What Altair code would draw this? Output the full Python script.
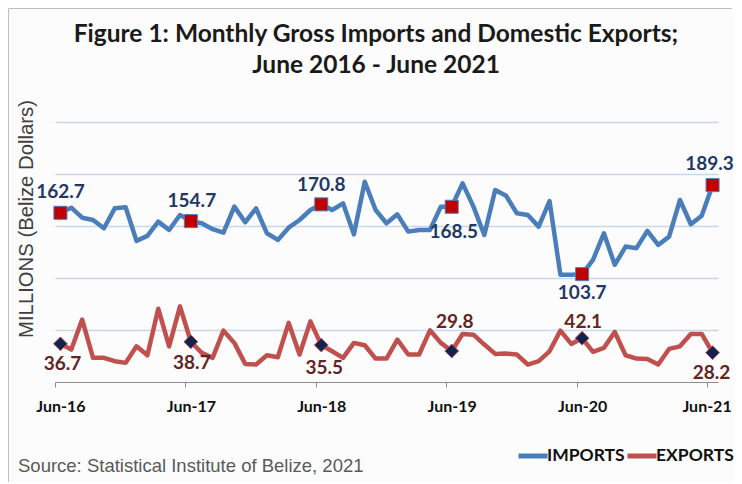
import altair as alt
import pandas as pd

# ---------------- data ----------------
tick_labels = ["Jun-16", "Jun-17", "Jun-18", "Jun-19", "Jun-20", "Jun-21"]
series_names = ["IMPORTS", "EXPORTS"]

imports = [162.7, 167.6, 158.0, 155.8, 147.8, 167.0, 168.0, 135.7, 140.5, 154.2,
           146.2, 160.6, 154.7, 152.6, 146.9, 143.6, 168.6, 153.6, 167.0, 143.0,
           136.6, 148.4, 155.8, 165.4, 170.8, 165.4, 171.8, 142.0, 192.5, 165.4,
           152.6, 161.2, 144.6, 146.2, 146.2, 168.6, 168.5, 191.0, 168.6, 141.4,
           184.6, 179.1, 162.2, 160.6, 149.4, 174.0, 103.1, 103.1, 103.7, 117.4,
           143.0, 112.7, 130.2, 128.7, 145.3, 131.8, 139.8, 175.0, 151.7, 159.9,
           189.3]

exports = [36.7, 31.2, 60.0, 23.2, 23.2, 20.0, 18.4, 34.3, 25.7, 70.5,
           34.3, 72.7, 38.7, 28.0, 23.2, 49.4, 37.6, 17.4, 16.8, 25.7,
           23.8, 56.8, 26.4, 58.3, 35.5, 29.5, 23.2, 37.6, 35.3, 22.5,
           22.5, 40.7, 26.4, 26.4, 49.7, 37.6, 29.8, 46.2, 45.5, 36.0,
           27.0, 27.3, 26.4, 16.8, 20.0, 29.5, 49.4, 36.6, 42.1, 29.0,
           32.8, 48.1, 25.7, 22.5, 22.2, 16.8, 31.8, 34.3, 46.2, 46.2,
           28.2]

months = list(range(len(imports)))
marker_idx = [0, 12, 24, 36, 48, 60]

title_line1 = "Figure 1: Monthly Gross Imports and Domestic Exports;"
title_line2 = "June 2016 - June 2021"
y_title = "MILLIONS (Belize Dollars)"
source_text = "Source: Statistical Institute of Belize, 2021"

# ---------------- styles ----------------
BLUE = "#4a7ebb"
RED = "#c0504d"
IMP_LABEL = "#1f3864"
EXP_LABEL = "#632523"
FONT = "Lato"
W, H = 663, 260
half = W / 61 / 2

imp_off = [(0, -21), (1, -20), (0, -19), (2, 25), (0, 19), (-3, -21)]
exp_off = [(2, 20), (1, 21), (3, 23), (3, -29), (1, -16), (-1, 20)]

df = pd.DataFrame({
    "i": months * 2,
    "value": imports + exports,
    "series": [series_names[0]] * len(imports) + [series_names[1]] * len(exports),
})

xscale = alt.Scale(domain=[-0.5, 60.5], nice=False, zero=False)
yscale = alt.Scale(domain=[0, 250], nice=False)

label_expr = "[" + ",".join(f"'{t}'" for t in tick_labels) + "][round(datum.value/12)]"

x_enc = alt.X(
    "i:Q", scale=xscale,
    axis=alt.Axis(values=[0, 12, 24, 36, 48, 60], labelExpr=label_expr,
                  tickOffset=-half,
                  labelOffset={"condition": {"test": "datum.value == 60", "value": half - 6},
                               "value": half},
                  grid=False, title=None,
                  domainColor="#8c8c8c", tickColor="#8c8c8c", tickSize=5,
                  labelFont=FONT, labelFontWeight="bold", labelFontSize=16,
                  labelColor="#111111", labelPadding=11, labelFlush=False,
                  labelOverlap=False),
)
y_enc = alt.Y(
    "value:Q", scale=yscale,
    axis=alt.Axis(values=[50, 100, 150, 200, 250], grid=True, gridColor="#c8d8ec",
                  gridWidth=1.5, labels=False, ticks=False, domain=False, title=None),
)

lines = alt.Chart(df).mark_line(strokeWidth=4.5, strokeJoin="round", strokeCap="round").encode(
    x=x_enc, y=y_enc,
    color=alt.Color("series:N", scale=alt.Scale(domain=series_names, range=[BLUE, RED]),
                    legend=alt.Legend(orient="none", legendX=461, legendY=317,
                                      direction="horizontal", title=None,
                                      symbolType="stroke", symbolStrokeWidth=5,
                                      symbolSize=841, labelFont=FONT,
                                      labelFontWeight="bold", labelFontSize=17.5,
                                      labelColor="#111111",
                                      columnPadding={"expr": "-8"},
                                      labelOffset={"expr": "-3"})),
)

idx_list = "[" + ",".join(str(m) for m in marker_idx) + "]"

imp_marks = alt.Chart(df).transform_filter(
    f"datum.series == '{series_names[0]}' && indexof({idx_list}, datum.i) >= 0"
).mark_point(shape="square", filled=True, fill="#c00000", stroke=BLUE, strokeWidth=1,
             size=170, opacity=1).encode(x=x_enc, y=y_enc)

exp_marks = alt.Chart(df).transform_filter(
    f"datum.series == '{series_names[1]}' && indexof({idx_list}, datum.i) >= 0"
).mark_point(shape="diamond", filled=True, fill="#10224d", stroke=RED, strokeWidth=1,
             size=190, opacity=1).encode(x=x_enc, y=y_enc)

label_layers = []
for k, idx in enumerate(marker_idx):
    for vals, offs, col in ((imports, imp_off, IMP_LABEL), (exports, exp_off, EXP_LABEL)):
        v = vals[idx]
        d = pd.DataFrame({"i": [idx], "value": [v], "t": [f"{v:.1f}"]})
        label_layers.append(
            alt.Chart(d).mark_text(dx=offs[k][0], dy=offs[k][1], font=FONT, fontWeight="bold",
                                   fontSize=19, color=col, baseline="middle", align="center")
            .encode(x=x_enc, y=y_enc, text="t:N")
        )

one = pd.DataFrame({"a": [0]})

def txt(text, x, y, **kw):
    return alt.Chart(one).mark_text(text=text, **kw).encode(x=alt.value(x), y=alt.value(y))

title1 = txt(title_line1, 321, -87, font=FONT, fontWeight="bold", fontSize=24.5,
             color="#1a1a1a", align="center", baseline="middle")
title2 = txt(title_line2, 321, -56, font=FONT, fontWeight="bold", fontSize=24.5,
             color="#1a1a1a", align="center", baseline="middle")
ytitle = txt(y_title, -28, 97, font="Liberation Sans", fontSize=20.3, angle=270,
             color="#404040", align="center", baseline="middle")
source = txt(source_text, -37, 344, font="Liberation Sans", fontSize=18.5,
             color="#595959", align="left", baseline="middle")

border_left = alt.Chart(one).mark_rule(color="#c0c0c0", strokeWidth=1).encode(
    x=alt.value(-46.5), y=alt.value(-113.5), y2=alt.value(H + 100))
border_top = alt.Chart(one).mark_rule(color="#c0c0c0", strokeWidth=1).encode(
    x=alt.value(-46.5), x2=alt.value(W + 14), y=alt.value(-113.5))

chart = alt.layer(
    lines, imp_marks, exp_marks, *label_layers,
    title1, title2, ytitle, source, border_left, border_top,
).properties(
    width=W, height=H,
    autosize=alt.AutoSizeParams(type="none"),
    padding={"left": 47, "top": 114, "right": 16, "bottom": 100},
    background="#fcfcfc",
).configure_view(stroke=None)

chart.save("out.html", embed_options={"renderer": "svg", "actions": False})
